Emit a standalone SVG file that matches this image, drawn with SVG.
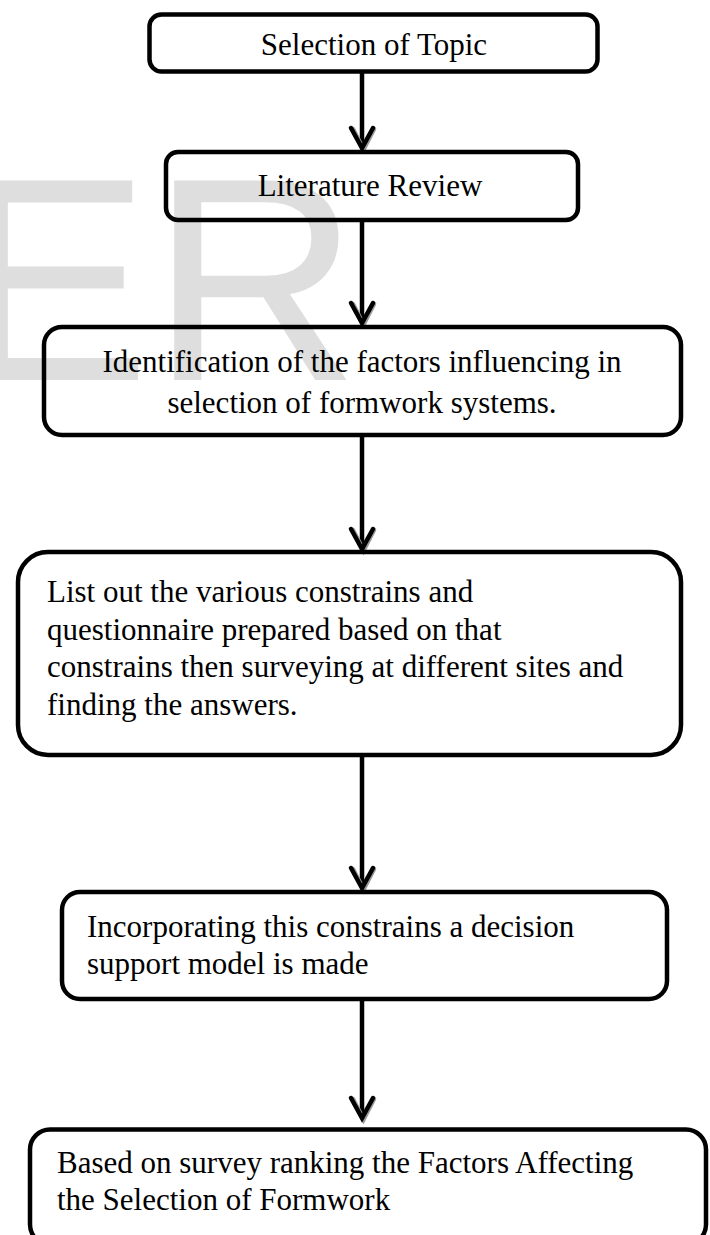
<svg xmlns="http://www.w3.org/2000/svg" xmlns:xlink="http://www.w3.org/1999/xlink" width="710" height="1235" viewBox="0 0 710 1235">
<style>
.box{fill:none;stroke:#000;stroke-width:4.5}
.t{font-family:"Liberation Serif","Times New Roman",serif;font-size:31px;fill:#000}
.c{text-anchor:middle}
.line{stroke:#000;stroke-width:4.5;fill:none}
.head{stroke:#000;stroke-width:4.5;fill:none;stroke-linecap:round;stroke-linejoin:miter}
.shadow{stroke:#9a9a9a;stroke-width:4.5;fill:none;stroke-linecap:round}
.wm{font-family:"Liberation Sans",Arial,sans-serif;font-size:290px;fill:#dedede}
</style>
<defs>
<g id="arrowhead">
<path class="shadow" d="M-9,-19 L1.5,1.5 L12,-19"/>
<path class="head" d="M-11,-20 L0,0 L11,-20"/>
</g>
</defs>
<rect width="710" height="1235" fill="#fff"/>
<text class="wm" x="-43" y="380">ER</text>
<g id="connectors">
<line class="line" x1="362" y1="73" x2="362" y2="146"/>
<use xlink:href="#arrowhead" x="362" y="148"/>
<line class="line" x1="362" y1="222" x2="362" y2="321"/>
<use xlink:href="#arrowhead" x="362" y="323"/>
<line class="line" x1="362" y1="437" x2="362" y2="547"/>
<use xlink:href="#arrowhead" x="362" y="549"/>
<line class="line" x1="362" y1="757" x2="362" y2="886"/>
<use xlink:href="#arrowhead" x="362" y="888"/>
<line class="line" x1="362" y1="1001" x2="362" y2="1116"/>
<use xlink:href="#arrowhead" x="362" y="1118"/>
</g>
<g id="node1">
<rect class="box" x="149.5" y="14.5" width="448" height="57" rx="12"/>
<text class="t c" x="374" y="55">Selection of Topic</text>
</g>
<g id="node2">
<rect class="box" x="166" y="152" width="412" height="68" rx="12"/>
<text class="t c" x="370" y="196">Literature Review</text>
</g>
<g id="node3">
<rect class="box" x="44" y="327" width="637" height="108" rx="18"/>
<text class="t c" x="362" y="372">Identification of the factors influencing in</text>
<text class="t c" x="362" y="413">selection of formwork systems.</text>
</g>
<g id="node4">
<rect class="box" x="18" y="552" width="663" height="203" rx="30"/>
<text class="t" x="47" y="602">List out the various constrains and</text>
<text class="t" x="47" y="640">questionnaire prepared based on that</text>
<text class="t" x="47" y="677">constrains then surveying at different sites and</text>
<text class="t" x="47" y="715">finding the answers.</text>
</g>
<g id="node5">
<rect class="box" x="62" y="892" width="605" height="107" rx="18"/>
<text class="t" x="87" y="937">Incorporating this constrains a decision</text>
<text class="t" x="87" y="974">support model is made</text>
</g>
<g id="node6">
<rect class="box" x="30" y="1129.5" width="676" height="115" rx="20"/>
<text class="t" x="57" y="1173">Based on survey ranking the Factors Affecting</text>
<text class="t" x="57" y="1210">the Selection of Formwork</text>
</g>
</svg>
